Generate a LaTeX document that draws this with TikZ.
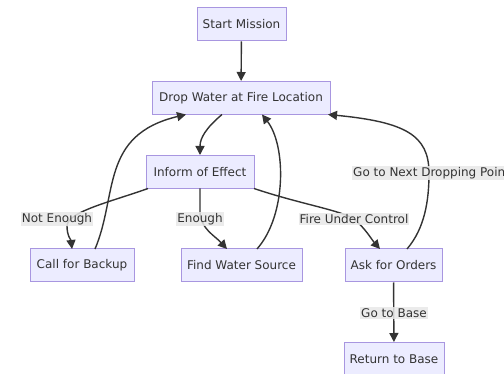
\documentclass[tikz,border=0pt]{standalone}
\usepackage{fontspec}
\setmainfont{DejaVu Sans}
\usetikzlibrary{arrows.meta}
\definecolor{boxfill}{HTML}{ECECFF}
\definecolor{boxline}{HTML}{A896E0}
\definecolor{ink}{HTML}{333333}
\definecolor{tagfill}{HTML}{E8E8E8}
\tikzset{
  stepbox/.style={draw=boxline, fill=boxfill, line width=1pt, text=ink,
    font=\fontsize{12}{14}\selectfont, minimum height=33pt, inner sep=0pt},
  tag/.style={fill=tagfill, fill opacity=0.85, text opacity=1, text=ink,
    font=\fontsize{12}{14}\selectfont, inner xsep=1pt, inner ysep=1.5pt},
  flow/.style={draw=ink, line width=1.4pt, -{Triangle[length=9pt,width=9pt]}},
}
\begin{document}
\begin{tikzpicture}[x=1pt, y=-1pt]
  \useasboundingbox (0,0) rectangle (504,374);

  % process steps
  \node[stepbox, minimum width=89pt]  (start)  at (241.5,24.5) {Start Mission};
  \node[stepbox, minimum width=178pt] (drop)   at (241,98)     {Drop Water at Fire Location};
  \node[stepbox, minimum width=108pt] (inform) at (200,172)    {Inform of Effect};
  \node[stepbox, minimum width=104pt] (backup) at (82,265.5)   {Call for Backup};
  \node[stepbox, minimum width=121pt] (source) at (241.5,265.5){Find Water Source};
  \node[stepbox, minimum width=97pt]  (orders) at (393.5,265.5){Ask for Orders};
  \node[stepbox, minimum width=100pt] (home)   at (394,359)    {Return to Base};

  % anchor points on the box edges
  \coordinate (dropS1) at (222,114.5);
  \coordinate (dropS2) at (186,114.5);
  \coordinate (dropS3) at (262,114.5);
  \coordinate (dropS4) at (328,114.5);
  \coordinate (infS1)  at (148,188.5);
  \coordinate (infS2)  at (200,188.5);
  \coordinate (infS3)  at (254,188.5);
  \coordinate (bakN1)  at (72,249);
  \coordinate (bakN2)  at (95,249);
  \coordinate (srcN1)  at (227,249);
  \coordinate (srcN2)  at (257,249);
  \coordinate (ordN1)  at (380,249);
  \coordinate (ordN2)  at (407,249);

  % connectors
  \draw[flow] (start) -- (drop);
  \draw[flow] (dropS1) .. controls (206,128) and (200,138) .. (inform.north);
  \draw[flow] (bakN2) .. controls (118,195) and (100,135) .. (dropS2);
  \draw[flow] (srcN2) .. controls (287,215) and (286,145) .. (dropS3);
  \draw[flow] (ordN2) .. controls (425,228) and (429,200) .. (429,173)
                      .. controls (429,135) and (405,122) .. (dropS4);
  \draw[flow] (infS1) .. controls (110,202) and (67,212) .. (67,226)
                      .. controls (67,236) and (71,240) .. (bakN1);
  \draw[flow] (infS2) -- (200,212) .. controls (200,228) and (215,236) .. (srcN1);
  \draw[flow] (infS3) .. controls (300,204) and (340,210) .. (354,219)
                      .. controls (365,228) and (372,240) .. (ordN1);
  \draw[flow] (orders) -- (home);

  % connector labels
  \node[tag] (lnot)  at (57,219)   {Not Enough};
  \node[tag] (lenou) at (200,219)  {Enough};
  \node[tag] (lfire) at (354,219)  {Fire Under Control};
  \node[tag, anchor=west] (lnext) at (352,173) {Go to Next Dropping Point};
  \node[tag] (lbase) at (394,313)  {Go to Base};
\end{tikzpicture}
\end{document}
